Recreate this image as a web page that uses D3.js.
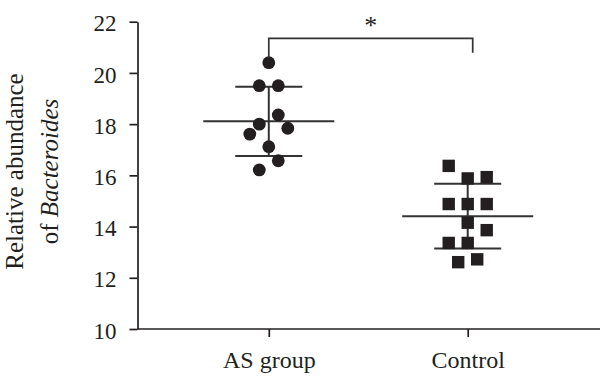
<!DOCTYPE html>
<html>
<head>
<meta charset="utf-8">
<script src="https://cdn.jsdelivr.net/npm/d3@7"></script>
<style>
  body { margin: 0; background: #fff; }
  svg { display: block; font-family: "Liberation Serif", "DejaVu Serif", serif; }
</style>
</head>
<body>
<svg id="chart" width="600" height="377"></svg>
<script>
// Data
const groups = ['AS group', 'Control'];
const asValues = [20.40, 19.50, 19.50, 18.36, 18.00, 17.61, 17.84, 17.12, 16.57, 16.21];
const asSlots = [0, -1, 1, 1, -1, -2, 2, 0, 1, -1];
const controlValues = [16.37, 15.88, 15.93, 14.88, 14.88, 14.88, 14.15, 13.86, 13.36, 13.36, 12.61, 12.72];
const controlSlots = [-2, 0, 2, -2, 0, 2, 0, 2, -2, 0, -1, 1];
const yTicks = [10, 12, 14, 16, 18, 20, 22];
const bracketTop = 21.35;
const bracketLegs = [20.58, 20.79];

const svg = d3.select('#chart');

const x = d3.scalePoint().domain(groups).range([137.5, 599]).padding(0.66);
const y = d3.scaleLinear().domain([10, 22]).range([329, 21.7]);

const ink = '#231f20';
const slotWidth = 9.5;

// Axes
const yAxis = svg.append('g')
  .attr('transform', `translate(${x.range()[0]},0)`)
  .call(d3.axisLeft(y).tickValues(yTicks).tickSize(8).tickPadding(13).tickSizeOuter(0));
yAxis.selectAll('text').attr('font-size', 23).attr('dy', '0.40em').attr('fill', ink)
  .attr('font-family', '"Liberation Serif", serif');

const xAxis = svg.append('g')
  .attr('transform', `translate(0,${y(10)})`)
  .call(d3.axisBottom(x).tickSize(8).tickPadding(14).tickSizeOuter(0));
xAxis.select('.domain').attr('d', `M${x.range()[0]},0H600`);
xAxis.selectAll('text').attr('font-size', 24).attr('fill', ink)
  .attr('font-family', '"Liberation Serif", serif');

svg.selectAll('.domain, .tick line').attr('stroke', ink).attr('stroke-width', 1.7);

// Y title
const title = svg.append('text')
  .attr('transform', 'translate(23,171.5) rotate(-90)')
  .attr('text-anchor', 'middle')
  .attr('font-size', 25)
  .attr('fill', ink);
title.append('tspan').attr('x', 0).attr('y', 0).text('Relative abundance');
const line2 = title.append('tspan').attr('x', 0).attr('y', 35);
line2.append('tspan').text('of ');
line2.append('tspan').attr('font-style', 'italic').text('Bacteroides');

// Mean and SD bars
const summary = [
  { g: 'AS group', vals: asValues },
  { g: 'Control', vals: controlValues }
];
const bars = svg.append('g').attr('stroke', '#333').attr('stroke-width', 2);
summary.forEach(s => {
  const cx = x(s.g);
  const m = d3.mean(s.vals);
  const sd = d3.deviation(s.vals);
  bars.append('line').attr('x1', cx).attr('x2', cx).attr('y1', y(m + sd)).attr('y2', y(m - sd));
  bars.append('line').attr('x1', cx - 65.5).attr('x2', cx + 65.5).attr('y1', y(m)).attr('y2', y(m));
  [m + sd, m - sd].forEach(v => {
    bars.append('line').attr('x1', cx - 33.5).attr('x2', cx + 33.5).attr('y1', y(v)).attr('y2', y(v));
  });
});

// Points
svg.append('g').selectAll('circle')
  .data(asValues)
  .join('circle')
  .attr('cx', (d, i) => x('AS group') + asSlots[i] * slotWidth)
  .attr('cy', d => y(d))
  .attr('r', 6.4)
  .attr('fill', ink);

const side = 12.4;
svg.append('g').selectAll('rect')
  .data(controlValues)
  .join('rect')
  .attr('x', (d, i) => x('Control') + controlSlots[i] * slotWidth - side / 2)
  .attr('y', d => y(d) - side / 2)
  .attr('width', side)
  .attr('height', side)
  .attr('fill', ink);

// Significance bracket
const bx1 = x('AS group');
const bx2 = x('Control') + 5;
svg.append('path')
  .attr('d', `M${bx1},${y(bracketLegs[0])}V${y(bracketTop)}H${bx2}V${y(bracketLegs[1])}`)
  .attr('fill', 'none')
  .attr('stroke', '#333')
  .attr('stroke-width', 1.7);
svg.append('text')
  .attr('x', (bx1 + bx2) / 2)
  .attr('y', 33.5)
  .attr('text-anchor', 'middle')
  .attr('font-size', 26)
  .attr('fill', ink)
  .text('*');
</script>
</body>
</html>
